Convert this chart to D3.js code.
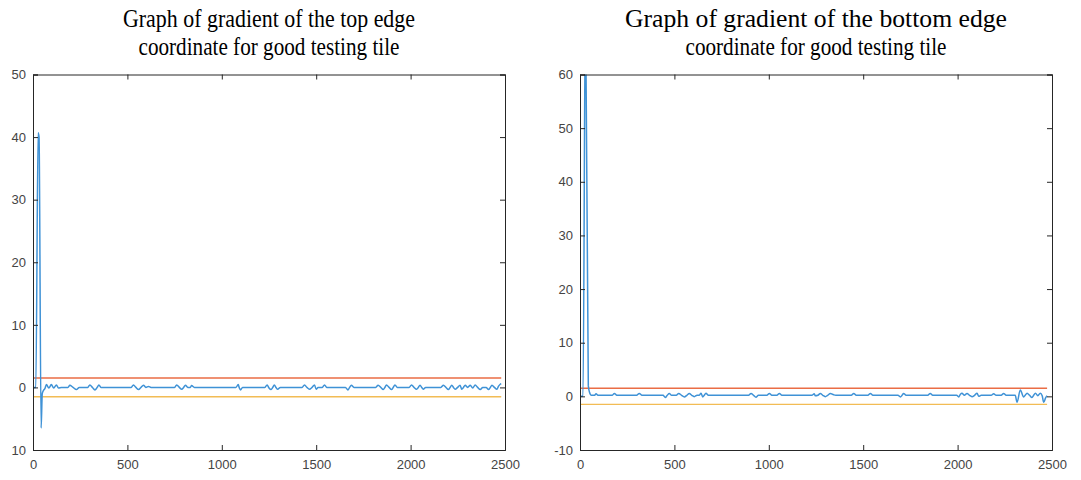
<!DOCTYPE html>
<html>
<head>
<meta charset="utf-8">
<script src="https://cdn.jsdelivr.net/npm/d3@7"></script>
<style>
  body { margin: 0; background: #fff; }
  text { font-family: "Liberation Sans", Arial, sans-serif; }
</style>
</head>
<body>
<svg width="1081" height="480"></svg>
<script>
// tick values / labels
var xTicks = [0, 500, 1000, 1500, 2000, 2500];
var leftYTicks = [-10, 0, 10, 20, 30, 40, 50];
var leftYLabels = ["10", "0", "10", "20", "30", "40", "50"];   // minus lost in the original
var rightYTicks = [-10, 0, 10, 20, 30, 40, 50, 60];
var rightYLabels = ["-10", "0", "10", "20", "30", "40", "50", "60"];
var upperThreshold = 1.5, lowerThreshold = -1.5;

// gradient of top edge coordinate (sample index, value)
var topIndex = [1,15,27,32,43,49,55,63,71,84,97,110,124,135,150,185,195,212,230,245,290,301,315,328,340,349,360,520,532,545,559,572,585,598,612,625,750,761,775,788,798,807,820,833,840,855,1075,1087,1093,1099,1110,1228,1240,1250,1261,1270,1278,1287,1296,1310,1425,1438,1451,1464,1478,1491,1500,1510,1532,1544,1556,1655,1668,1677,1686,1700,1815,1828,1842,1855,1864,1872,1886,1899,1908,1917,1930,1992,2005,2018,2032,2041,2050,2059,2067,2080,2160,2174,2187,2200,2209,2218,2227,2236,2249,2262,2271,2280,2289,2302,2316,2329,2342,2355,2369,2382,2400,2413,2422,2431,2444,2457,2466,2475,2480];
var topGrad = [0,0,40.7,40,-6.5,-1.0,-0.5,-0.2,0.45,-0.1,0.45,-0.1,0.4,-0.1,0,0,0.35,0,-0.35,0,0,0.4,0,-0.4,0,0.4,0,0,0.4,0,-0.35,0,0.35,0,0.15,0,0,0.4,0,-0.3,0,0.35,0,0,0.3,0,0,0.45,-0.1,-0.4,0,0,0.4,-0.1,-0.35,0,0.4,0,-0.3,0,0,0.4,0,-0.3,0,0.4,-0.3,0,0,0.4,0,0,-0.4,0,0.35,0,0,0.35,0,-0.35,0,0.4,0,-0.35,0,0.4,0,0,0.4,0,-0.3,0,0.35,0,-0.3,0,0,0.35,0,-0.35,0,0.35,0,-0.3,0,0.35,-0.3,0,0.35,0,0.35,-0.1,0.4,0,-0.35,0,0,-0.35,0,0.35,0,-0.3,0.2,0.5,0.6];

// gradient of bottom edge coordinate
var bottomIndex = [1,16,29,44,50,60,78,85,95,170,182,195,300,314,328,440,452,462,473,485,510,523,538,553,566,579,592,605,620,632,641,650,658,667,680,893,906,919,932,945,990,1003,1016,1043,1056,1069,1228,1241,1246,1260,1273,1286,1299,1312,1326,1343,1355,1437,1450,1463,1525,1538,1551,1684,1697,1706,1714,1727,1842,1855,1868,1995,2006,2015,2023,2036,2050,2063,2076,2090,2103,2112,2125,2178,2191,2204,2231,2244,2257,2305,2315,2332,2350,2358,2368,2381,2394,2403,2412,2425,2438,2448,2456,2466,2474];
var bottomGrad = [0,0,75,2,0.8,0.2,0.2,0.5,0.2,0.2,0.55,0.2,0.2,0.55,0.2,0.2,-0.2,0.2,0.55,0.2,0.2,0.55,0.2,-0.1,0.2,0.55,0.2,-0.05,0.2,0.2,0.6,-0.1,0.2,0.6,0.2,0.2,0.55,0.2,-0.15,0.2,0.2,0.55,0.2,0.2,0.55,0.2,0.2,0.5,0.1,0.2,0.55,0.2,-0.05,0.2,0.55,0.3,0.2,0.2,0.55,0.2,0.2,0.55,0.2,0.2,-0.1,0.2,0.55,0.2,0.2,0.55,0.2,0.2,-0.1,0.4,0.6,0.2,0.55,0.2,-0.05,0.2,0.6,0.0,0.2,0.2,0.5,0.2,0.2,0.55,0.2,0.2,-1.1,1.2,-0.1,0.2,0.6,0.2,-0.2,0.2,0.6,0.1,0.6,0.1,-1.1,-0.3,0.1];

var svg = d3.select("svg");

function drawChart(opt) {
    var x = d3.scaleLinear().domain([0, 2500]).range([opt.left, opt.right]);
    var y = d3.scaleLinear().domain(opt.yDomain).range([450, 74.5]);
    var g = svg.append("g");

    svg.append("clipPath").attr("id", opt.id)
      .append("rect")
        .attr("x", opt.left).attr("y", 74.5)
        .attr("width", opt.right - opt.left).attr("height", 450 - 74.5);

    var n = d3.max(opt.idx);
    var data = opt.idx.map(function(d, i) { return [d, opt.vals[i]]; });

    var plot = g.append("g").attr("clip-path", "url(#" + opt.id + ")");

    plot.append("line")
        .attr("x1", x(0)).attr("x2", x(n))
        .attr("y1", y(upperThreshold)).attr("y2", y(upperThreshold))
        .attr("stroke", "#ea6d45").attr("stroke-width", 1.4);
    plot.append("line")
        .attr("x1", x(0)).attr("x2", x(n))
        .attr("y1", y(lowerThreshold)).attr("y2", y(lowerThreshold))
        .attr("stroke", "#f2bc55").attr("stroke-width", 1.4);

    plot.append("path")
        .datum(data)
        .attr("fill", "none")
        .attr("stroke", "#3f92d6")
        .attr("stroke-width", 1.5)
        .attr("stroke-linejoin", "round")
        .attr("d", d3.line().curve(d3.curveMonotoneX)
            .x(function(d) { return x(d[0]); }).y(function(d) { return y(d[1]); }));

    // inward ticks, box style
    g.append("g").attr("transform", "translate(0,450)")
        .call(d3.axisBottom(x).tickValues(xTicks).tickSize(-5).tickPadding(10).tickFormat(d3.format("d")));
    g.append("g").attr("transform", "translate(0,74.5)")
        .call(d3.axisTop(x).tickValues(xTicks).tickSize(-5).tickFormat(""));
    g.append("g").attr("transform", "translate(" + opt.left + ",0)")
        .call(d3.axisLeft(y).tickValues(opt.yTicks).tickSize(-5).tickPadding(7)
        .tickFormat(function(d, i) { return opt.yLabels[i]; }));
    g.append("g").attr("transform", "translate(" + opt.right + ",0)")
        .call(d3.axisRight(y).tickValues(opt.yTicks).tickSize(-5).tickFormat(""));

    g.selectAll(".domain").attr("stroke", "#262626");
    g.selectAll(".tick line").attr("stroke", "#262626");
    g.selectAll(".tick text").attr("fill", "#444").style("font-size", "13px");

    var cx = (opt.left + opt.right) / 2;
    opt.title.forEach(function(t, i) {
        svg.append("text")
            .attr("x", cx).attr("y", 27 + i * 28)
            .attr("text-anchor", "middle")
            .attr("textLength", opt.titleWidths[i])
            .attr("lengthAdjust", "spacingAndGlyphs")
            .style("font-family", "'Liberation Serif', 'Times New Roman', serif")
            .style("font-size", "25px")
            .attr("fill", "#000")
            .text(t);
    });
}

drawChart({
    id: "clipL", left: 33, right: 505,
    yDomain: [-10, 50], yTicks: leftYTicks, yLabels: leftYLabels,
    idx: topIndex, vals: topGrad,
    title: ["Graph of gradient of the top edge", "coordinate for good testing tile"],
    titleWidths: [292, 261]
});

drawChart({
    id: "clipR", left: 580, right: 1052,
    yDomain: [-10, 60], yTicks: rightYTicks, yLabels: rightYLabels,
    idx: bottomIndex, vals: bottomGrad,
    title: ["Graph of gradient of the bottom edge", "coordinate for good testing tile"],
    titleWidths: [382, 261]
});
</script>
</body>
</html>
